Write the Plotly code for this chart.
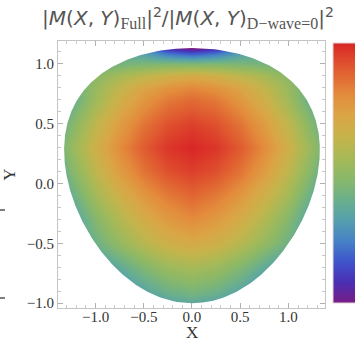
import numpy as np
import plotly.graph_objects as go

# ---- particle masses (MeV) defining the Dalitz region of eta' -> eta pi+ pi-
M_ETAP = 957.78
M_ETA = 547.86
M_PI = 139.57

# ---- colour values (0 = purple, 1 = red), X >= 0 half
x_half = [0.0, 0.25, 0.5, 0.75, 1.0, 1.25, 1.45]
y_nodes = [-1.1, -0.9, -0.7, -0.5, -0.3, -0.1, 0.1, 0.3, 0.5, 0.7, 0.8, 0.9, 1.0, 1.1, 1.2]
z_half = [
    [0.28, 0.25, 0.18, 0.09, -0.01, -0.15, -0.26],
    [0.44, 0.41, 0.34, 0.25, 0.15, 0.01, -0.10],
    [0.56, 0.53, 0.46, 0.37, 0.27, 0.13, 0.02],
    [0.70, 0.67, 0.60, 0.51, 0.41, 0.27, 0.16],
    [0.80, 0.76, 0.69, 0.59, 0.47, 0.31, 0.17],
    [0.88, 0.84, 0.77, 0.67, 0.55, 0.39, 0.25],
    [0.95, 0.92, 0.85, 0.75, 0.62, 0.46, 0.32],
    [1.00, 0.97, 0.90, 0.80, 0.67, 0.51, 0.37],
    [0.95, 0.92, 0.85, 0.75, 0.62, 0.46, 0.32],
    [0.87, 0.84, 0.77, 0.67, 0.54, 0.38, 0.24],
    [0.81, 0.78, 0.72, 0.63, 0.52, 0.38, 0.27],
    [0.70, 0.67, 0.62, 0.56, 0.48, 0.375, 0.28],
    [0.46, 0.46, 0.45, 0.43, 0.40, 0.36, 0.32],
    [0.12, 0.18, 0.30, 0.38, 0.42, 0.42, 0.42],
    [-0.30, -0.20, 0.00, 0.20, 0.30, 0.35, 0.35],
]
x_ticks = [-1.0, -0.5, 0.0, 0.5, 1.0]
y_ticks = [-1.0, -0.5, 0.0, 0.5, 1.0]

# mirror to full X (symmetric under X -> -X)
x_nodes = [-v for v in x_half[:0:-1]] + x_half
z_full = [row[:0:-1] + row for row in z_half]

# ---- Dalitz boundary from kinematics
Q = M_ETAP - M_ETA - 2 * M_PI
s = np.linspace(4 * M_PI**2, (M_ETAP - M_ETA) ** 2, 400)
T_eta = (M_ETAP**2 + M_ETA**2 - s) / (2 * M_ETAP) - M_ETA
Yb = (M_ETA + 2 * M_PI) / M_PI * T_eta / Q - 1
p_pi = np.sqrt(np.clip(s / 4 - M_PI**2, 0, None))
E_eta = (M_ETAP**2 - s - M_ETA**2) / (2 * np.sqrt(s))
p_eta = np.sqrt(np.clip(E_eta**2 - M_ETA**2, 0, None))
Xb = np.sqrt(3) * (2 * p_pi * p_eta / M_ETAP) / Q
order = np.argsort(Yb)
yl = Yb[order]; xl = Xb[order]
inner_x = list(-xl) + list(xl[::-1])
inner_y = list(yl) + list(yl[::-1])
mask_x = [0, 3, 3, -3, -3, 0] + inner_x + [0]
mask_y = [-3, -3, 3, 3, -3, -3] + inner_y + [-3]

colorscale = [
    [0.00, '#781c87'], [0.08, '#4a2fb3'], [0.16, '#3f55cc'], [0.24, '#4683c5'],
    [0.32, '#55a0ad'], [0.40, '#6cb08a'], [0.48, '#8ab868'], [0.56, '#a8b956'],
    [0.64, '#c6b34b'], [0.72, '#daa545'], [0.80, '#e38c3c'], [0.90, '#e05b30'],
    [1.00, '#d92626'],
]

PL, PR, PT, PB = 58, 325, 41, 308
PW, PH = PR - PL, PB - PT

fig = go.Figure()
fig.add_trace(go.Heatmap(
    x=x_nodes, y=y_nodes, z=z_full, zmin=0, zmax=1, zsmooth='best',
    colorscale=colorscale, hoverinfo='skip',
    colorbar=dict(
        x=(333 - PL) / PW, xanchor='left', xpad=0,
        y=(PB - 173) / PH, yanchor='middle', ypad=0,
        lenmode='fraction', len=260 / PH, thickness=26,
        outlinecolor='#e4d4d4', outlinewidth=1,
        showticklabels=False, ticks='',
    ),
))
fig.add_trace(go.Scatter(
    x=mask_x, y=mask_y, mode='lines', fill='toself', fillcolor='white',
    line=dict(width=0, color='white'), hoverinfo='skip', showlegend=False,
))

serif = 'Liberation Serif, Times New Roman, serif'
axis_common = dict(
    showgrid=False, zeroline=False, showline=True, linecolor='#c4c4c4', linewidth=1,
    mirror='allticks', ticks='inside', ticklen=5, tickwidth=1, tickcolor='#b0b0b0',
    minor=dict(dtick=0.1, ticks='inside', ticklen=3, tickwidth=1, tickcolor='#c8c8c8'),
    tickfont=dict(family=serif, size=15, color='#333333'),
    tickformat='.1f', automargin=False,
)
fig.update_xaxes(**axis_common, range=[-1.39, 1.38], tickvals=x_ticks, ticklabelstandoff=-5)
fig.update_yaxes(**axis_common, range=[-1.04, 1.19], tickvals=y_ticks,
                 title=dict(text='Y', font=dict(family=serif, size=17, color='#333333'), standoff=6))

sub = "<span style='font-family:Liberation Serif;font-size:16px'>"
title = ("|<i>M</i>(<i>X</i>, <i>Y</i>)<sub>" + sub + "Full</span></sub>|<sup>2</sup>/"
         "|<i>M</i>(<i>X</i>, <i>Y</i>)<sub>" + sub + "D\u2212wave=0</span></sub>|<sup>2</sup>")
fig.update_layout(
    width=355, height=342,
    margin=dict(l=PL, r=355 - PR, t=PT, b=342 - PB, autoexpand=False),
    paper_bgcolor='white', plot_bgcolor='white',
    title=dict(text=title, x=188 / 355, xanchor='center', yref='container',
               y=1 - 18 / 342, yanchor='middle',
               font=dict(family='DejaVu Sans', size=20, color='#555555')),
    showlegend=False,
)
fig.add_annotation(text='X', xref='paper', yref='paper',
                   x=(192 - PL) / PW, y=(PB - 332) / PH, xanchor='center', yanchor='middle',
                   showarrow=False, borderpad=0, font=dict(family=serif, size=17, color='#333333'))
for py in (210, 298):
    fig.add_shape(type='line', xref='paper', yref='paper',
                  x0=(0 - PL) / PW, x1=(5 - PL) / PW,
                  y0=(PB - py) / PH, y1=(PB - py) / PH,
                  line=dict(color='#555555', width=1.5))

fig.write_html('out.html')
